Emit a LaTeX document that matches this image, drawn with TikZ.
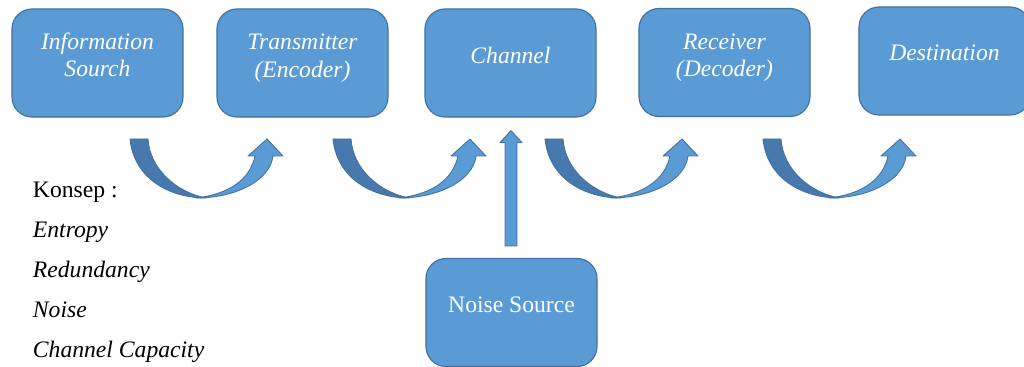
\documentclass[tikz,border=0pt]{standalone}
\usepackage{xcolor}
\usepackage{tikz}
\usetikzlibrary{positioning,calc}
\usepackage{fontspec}
\setmainfont{Liberation Serif}[ItalicFont={Liberation Serif Italic}]
\definecolor{BoxBlue}{HTML}{5B9BD5}
\definecolor{EdgeBlue}{HTML}{41719C}
\definecolor{DeepBlue}{HTML}{4779AE}

\begin{document}
\begin{tikzpicture}[x=0.025cm, y=-0.025cm,
    box/.style={draw=EdgeBlue, fill=BoxBlue, line width=0.8pt, rounded corners=0.5cm,
      minimum width=4.275cm, minimum height=2.7cm, inner sep=0pt},
    boxtext/.style={text=white, align=center, font=\fontsize{16.8}{19.5}\selectfont\itshape},
    lightpart/.style={draw=EdgeBlue, fill=BoxBlue, line width=0.6pt, line join=round},
    darkpart/.style={draw=EdgeBlue, fill=DeepBlue, line width=0.6pt, line join=round}]
      \useasboundingbox (0,0) rectangle (1024,367);

      % Boxes
      \node[box] (is) at (97.5,63) {};
      \node[box] (tr) at (302.5,63) {};
      \node[box] (ch) at (510.5,63) {};
      \node[box] (rc) at (724.5,62.5) {};
      \node[box] (ds) at (944.5,61) {};
      \node[box] (ns) at (511.5,312.5) {};

      % Box texts
      \node[boxtext] (is-t) at ($(is)+(0,-8)$) {Information\\Sourch};
      \node[boxtext] (tr-t) at ($(tr)+(0,-5)$) {Transmitter\\(Encoder)};
      \node[boxtext] (ch-t) at ($(ch)+(0,-8)$) {Channel};
      \node[boxtext] (rc-t) at ($(rc)+(0,-5)$) {Receiver\\(Decoder)};
      \node[boxtext] (ds-t) at ($(ds)+(0,-8)$) {Destination};
      \node[boxtext, font=\fontsize{16.8}{19.5}\selectfont] (ns-t) at ($(ns)+(0,-7.5)$) {Noise Source};

      % Curved arrows
      \foreach \x in {130,333,545,763} {
        \begin{scope}[shift={(\x,139)}]
          \draw[darkpart] (0,0) .. controls (4,40) and (40,59) .. (76,59)
            .. controls (46,53) and (20,30) .. (18,0) -- cycle;
          \draw[lightpart] (66,59) .. controls (105,59) and (140,42) .. (143,17)
            -- (153,17) -- (137,0) -- (118,17) -- (125,17)
            .. controls (120,40) and (100,55) .. (66,59) -- cycle;
        \end{scope}
      }

      % Noise arrow
      \coordinate (tip) at ($(ch.south)+(0.5,13)$);
      \coordinate (foot) at ($(ns.north)+(-0.5,-12)$);
      \draw[lightpart] ($(foot)+(-6,0)$) -- ($(foot)+(6,0)$) -- ($(tip)+(6,12)$)
        -- ($(tip)+(11,12)$) -- (tip) -- ($(tip)+(-11,12)$) -- ($(tip)+(-6,12)$) -- cycle;

      % Concepts
      \node[anchor=west, align=left, font=\fontsize{16.8}{28.4}\selectfont] (konsep) at (28,272)
        {Konsep :\\ \textit{Entropy}\\ \textit{Redundancy}\\ \textit{Noise}\\ \textit{Channel Capacity}};
\end{tikzpicture}
\end{document}
